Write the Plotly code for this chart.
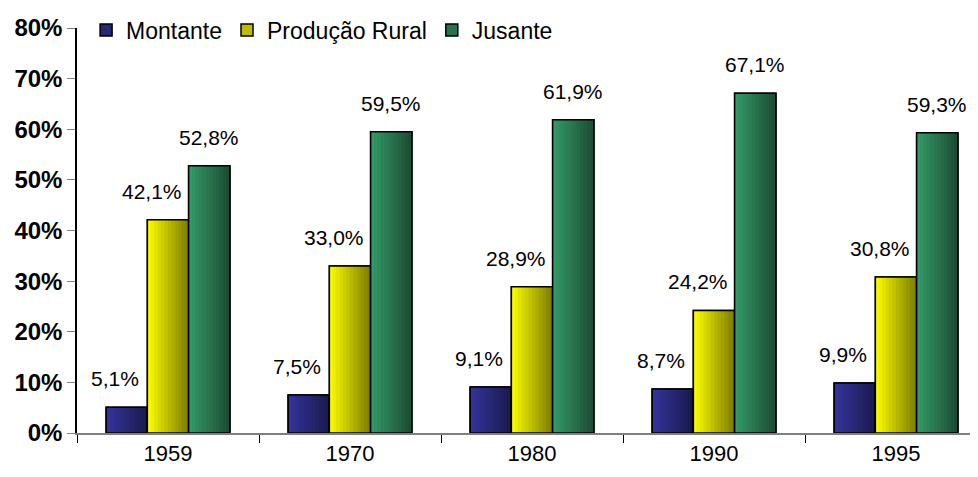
import plotly.graph_objs as go

years = ["1959", "1970", "1980", "1990", "1995"]
montante = [5.1, 7.5, 9.1, 8.7, 9.9]
producao_rural = [42.1, 33.0, 28.9, 24.2, 30.8]
jusante = [52.8, 59.5, 61.9, 67.1, 59.3]

# name, values, gradient left colour, gradient right colour
series = [
    ("Montante", montante, (52, 52, 156), (26, 26, 76)),
    ("Produção Rural", producao_rural, (255, 255, 0), (122, 122, 0)),
    ("Jusante", jusante, (52, 156, 104), (28, 74, 50)),
]
# extra horizontal nudge of the value labels (px), per series
label_nudge = [-12, -16, 0]

FONT = "Liberation Sans, Arial, sans-serif"
GROUP = 0.68          # share of a category taken by the bar group
BAR_W = GROUP / 3
STRIPS = 12           # slices used to fake the horizontal gradient


def rgb(c):
    return "rgb(%d,%d,%d)" % c


def mix(a, b, t):
    return tuple(round(a[j] + (b[j] - a[j]) * t) for j in range(3))


def pct(v):
    return f"{v:.1f}".replace(".", ",") + "%"


x_idx = list(range(len(years)))
fig = go.Figure()
for s, (name, vals, c0, c1) in enumerate(series):
    left = -GROUP / 2 + s * BAR_W
    # legend entry / base fill
    fig.add_trace(go.Bar(
        x=x_idx, y=vals, name=name, width=BAR_W, offset=left,
        marker=dict(color=rgb(mix(c0, c1, 0.5)), line=dict(color="black", width=1.5)),
        hoverinfo="skip",
    ))
    sw = BAR_W / STRIPS
    for k in range(STRIPS):
        fig.add_trace(go.Bar(
            x=x_idx, y=vals, width=sw * 1.15, offset=left + k * sw,
            marker=dict(color=rgb(mix(c0, c1, (k + 0.5) / STRIPS)), line=dict(width=0)),
            showlegend=False, hoverinfo="skip",
        ))
    # outline on top
    fig.add_trace(go.Bar(
        x=x_idx, y=vals, name=name, width=BAR_W, offset=left,
        marker=dict(color="rgba(0,0,0,0)", line=dict(color="black", width=1.5)),
        showlegend=False,
    ))
    for i, v in enumerate(vals):
        fig.add_annotation(
            x=i + left + BAR_W / 2, y=v, xref="x", yref="y", text=pct(v),
            showarrow=False, yanchor="bottom", yshift=15, xshift=label_nudge[s],
            font=dict(family=FONT, size=21, color="black"),
        )

# the page body has an 8px margin, so margins are set 8px smaller at top/left;
# the original is cropped on the right, so the plot runs a little past the edge
fig.update_layout(
    width=980, height=477,
    margin=dict(l=69, r=1, t=20, b=52, autoexpand=False),
    paper_bgcolor="white", plot_bgcolor="white",
    barmode="overlay",
    font=dict(family=FONT, color="black"),
    legend=dict(
        orientation="h", x=0.01, y=1.048, xanchor="left", yanchor="top",
        font=dict(family=FONT, size=23), itemwidth=30,
        bgcolor="rgba(0,0,0,0)", tracegroupgap=0,
    ),
    showlegend=True,
)
fig.update_xaxes(
    range=[-0.5, len(years) - 0.5], tickvals=x_idx, ticktext=years,
    showgrid=False, showline=True, linecolor="#808080", linewidth=2,
    ticks="", tickfont=dict(family=FONT, size=22), zeroline=False,
    automargin=False,
    # category boundary ticks below the axis
    minor=dict(tickvals=[b - 0.5 for b in range(len(years) + 1)],
               ticks="outside", ticklen=8, tickcolor="black", tickwidth=1.2,
               showgrid=False),
)
fig.update_yaxes(
    range=[0, 80], dtick=10, ticksuffix="%", showgrid=False,
    showline=True, linecolor="black", linewidth=1.5,
    ticks="outside", ticklen=8, tickcolor="#808080",
    tickfont=dict(family="Liberation Sans, Arial", size=24, weight="bold"),
    zeroline=False, automargin=False,
)

fig.write_html("out.html")
